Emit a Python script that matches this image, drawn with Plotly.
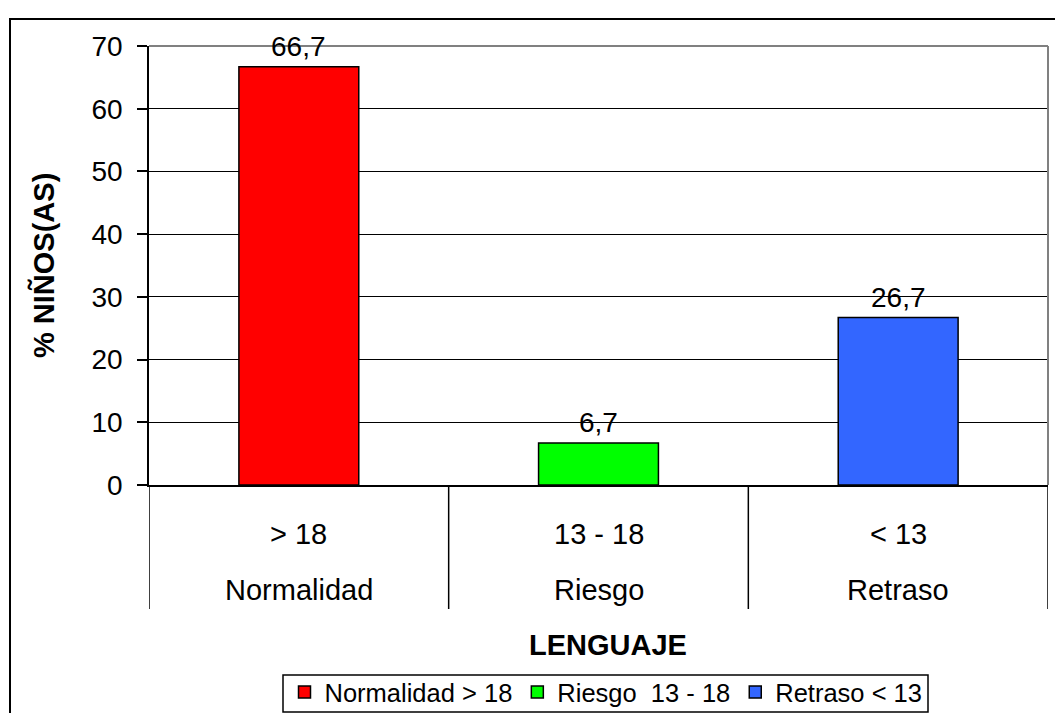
import plotly.graph_objects as go

# Data
ranges = ["> 18", "13 - 18", "< 13"]
levels = ["Normalidad", "Riesgo", "Retraso"]
values = [66.7, 6.7, 26.7]
legend_names = ["Normalidad > 18", "Riesgo  13 - 18", "Retraso < 13"]
colors = ["#FF0000", "#00FF00", "#3366FF"]
y_ticks = [0, 10, 20, 30, 40, 50, 60, 70]

FONT = "Liberation Sans, Arial, sans-serif"

def esc(s):
    return s.replace("<", "&lt;").replace(">", "&gt;")

fig = go.Figure()
for i in range(3):
    fig.add_trace(go.Bar(
        x=[ranges[i]], y=[values[i]], name=esc(legend_names[i]),
        marker=dict(color=colors[i], line=dict(color="black", width=1.5)),
        width=0.4, showlegend=True,
    ))

# plot area geometry (pixels)
L, R, T, B = 149, 1048, 46, 485
W, H = R - L, B - T
def py(Y):
    return (B - Y) / H
def px(X):
    return (X - L) / W

annotations = []
for i in range(3):
    annotations.append(dict(
        x=ranges[i], y=values[i], xref="x", yref="y",
        text=f"{values[i]:.1f}".replace(".", ","),
        showarrow=False, yanchor="bottom", yshift=3,
        font=dict(family=FONT, size=28, color="black"),
    ))
    annotations.append(dict(
        x=ranges[i], y=py(533.5), xref="x", yref="paper",
        text=esc(ranges[i]), showarrow=False, yanchor="middle",
        font=dict(family=FONT, size=29, color="black"),
    ))
    annotations.append(dict(
        x=ranges[i], y=py(590), xref="x", yref="paper",
        text=esc(levels[i]), showarrow=False, yanchor="middle",
        font=dict(family=FONT, size=29, color="black"),
    ))

annotations.append(dict(
    x=px(608), y=py(645), xref="paper", yref="paper",
    text="<b>LENGUAJE</b>", showarrow=False, xanchor="center", yanchor="middle",
    font=dict(family=FONT, size=29, color="black"),
))
annotations.append(dict(
    x=px(43), y=py(266), xref="paper", yref="paper",
    text="<b>% NIÑOS(AS)</b>", showarrow=False, xanchor="center", yanchor="middle",
    textangle=-90, font=dict(family=FONT, size=29, color="black"),
))

shapes = []
# category dividers
for xv in [-0.5, 0.5, 1.5, 2.5]:
    shapes.append(dict(type="line", xref="x", yref="paper",
                       x0=xv, x1=xv, y0=0, y1=py(609),
                       line=dict(color="black", width=1.5)))
# plot area border top/right (gray)
shapes.append(dict(type="line", xref="paper", yref="paper", x0=0, x1=1, y0=1, y1=1,
                   line=dict(color="#808080", width=2)))
shapes.append(dict(type="line", xref="paper", yref="paper", x0=1, x1=1, y0=0, y1=1,
                   line=dict(color="#808080", width=2)))
# outer chart border
shapes.append(dict(type="rect", xref="paper", yref="paper",
                   x0=px(10), x1=px(1070), y0=py(730), y1=py(19),
                   line=dict(color="black", width=2), layer="above"))
# legend box
shapes.append(dict(type="rect", xref="paper", yref="paper",
                   x0=px(283), x1=px(928), y0=py(712), y1=py(675),
                   line=dict(color="black", width=1.5), layer="above"))

fig.update_layout(
    width=1055, height=713, autosize=False,
    margin=dict(l=L, r=1055 - R, t=T, b=713 - B, autoexpand=False),
    paper_bgcolor="white", plot_bgcolor="white",
    barmode="overlay",
    font=dict(family=FONT, size=28, color="black"),
    showlegend=True,
    legend=dict(
        orientation="h", x=px(284.5), xanchor="left", y=py(669), yanchor="top",
        borderwidth=0, bgcolor="rgba(0,0,0,0)",
        font=dict(family=FONT, size=25.5, color="black"),
        itemclick=False, tracegroupgap=0,
    ),
    xaxis=dict(
        type="category", categoryorder="array", categoryarray=ranges,
        range=[-0.5, 2.5], showticklabels=False, showgrid=False,
        showline=True, linecolor="black", linewidth=1.5, ticks="", zeroline=False,
        fixedrange=True,
    ),
    yaxis=dict(
        range=[0, 70], tickvals=y_ticks, ticks="outside", ticklen=10,
        tickcolor="black", tickwidth=1.5, showline=True, linecolor="black", linewidth=1.5,
        showgrid=True, gridcolor="black", gridwidth=1, zeroline=False,
        tickfont=dict(family=FONT, size=28, color="black"),
        ticklabelstandoff=9,
        fixedrange=True,
    ),
    annotations=annotations,
    shapes=shapes,
)

fig.write_html(
    "out.html",
    config={"displayModeBar": False, "responsive": False},
    post_script="document.body.style.margin='0';document.body.style.overflow='hidden';",
)
